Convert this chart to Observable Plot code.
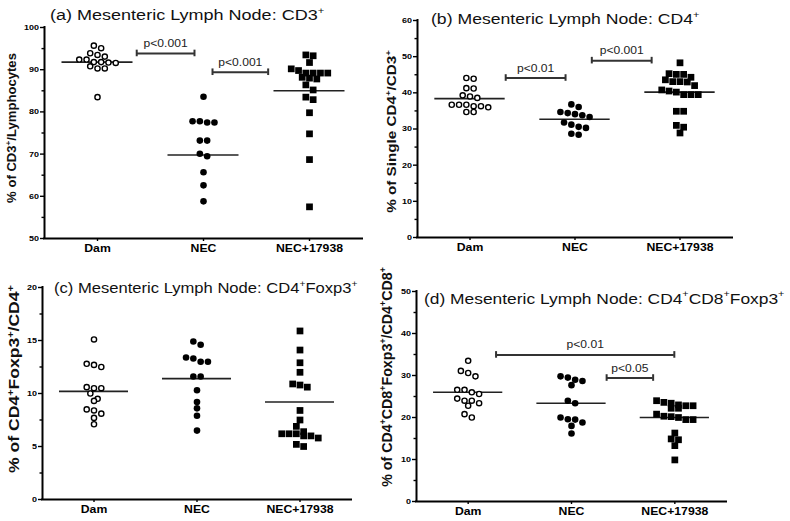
<!DOCTYPE html>
<html>
<head>
<meta charset="utf-8">
<script src="https://cdn.jsdelivr.net/npm/d3@7"></script>
<script src="https://cdn.jsdelivr.net/npm/@observablehq/plot@0.6"></script>
<style>
html, body { margin: 0; padding: 0; background: #fff; }
#wrap { position: relative; width: 790px; height: 521px; overflow: hidden; background: #fff; }
#wrap > div { position: absolute; }
.pp g[aria-label="y-axis tick label"], .pp g[aria-label="x-axis tick label"] { font-weight: bold; }
</style>
</head>
<body>
<div id="wrap"></div>
<script>
// ---------------- DATA ----------------
const categories = ["Dam", "NEC", "NEC+17938"];

// (a) CD3+ (% of CD3+/Lymphocytes)
const cd3Dam = [95.7, 95.1, 93.9, 93.5, 93.1, 92.4, 92.4, 91.8, 91.6, 91.8, 91.7, 90.3, 90.3, 90.8, 83.5];
const cd3NEC = [83.6, 77.8, 77.5, 77.5, 77.8, 73.2, 73.2, 70.1, 69.5, 65.7, 62.6, 58.8];
const cd3NEC17938 = [93.3, 93.5, 91.7, 89.2, 89.2, 89.2, 89.2, 90.2, 89.8, 88.0, 87.8, 88.2, 86.4, 85.2, 83.5, 82.9, 79.8, 74.8, 68.7, 57.5];
const cd3Lines = [91.8, 69.8, 85.0];
const cd3Tests = [
  {from: 0.37, to: 0.915, y: 93.85, label: "p<0.001"},
  {from: 1.085, to: 1.61, y: 89.4, label: "p<0.001"}
];
const cd3Ticks = [50, 60, 70, 80, 90, 100];

// (b) CD4+ (% of Single CD4+/CD3+)
const cd4Dam = [44.1, 43.9, 41.2, 41.3, 39.0, 38.6, 39.3, 36.7, 36.3, 36.0, 34.7, 34.7, 36.3, 36.7, 36.7];
const cd4NEC = [36.8, 36.1, 34.7, 34.1, 33.3, 33.8, 34.4, 31.2, 30.3, 30.6, 31.8, 28.4, 28.7];
const cd4NEC17938 = [48.3, 45.3, 45.1, 45.1, 44.3, 43.1, 43.0, 43.1, 43.6, 42.0, 40.8, 40.5, 40.2, 39.5, 39.5, 39.5, 34.9, 34.9, 31.0, 30.5, 28.9];
const cd4Lines = [38.4, 32.7, 40.2];
const cd4Tests = [
  {from: 0.34, to: 0.91, y: 44.1, label: "p<0.01"},
  {from: 1.16, to: 1.73, y: 48.9, label: "p<0.001"}
];
const cd4Ticks = [0, 10, 20, 30, 40, 50, 60];

// (c) CD4+Foxp3+ (% of CD4+Foxp3+/CD4+)
const foxDam = [15.1, 12.8, 12.5, 12.7, 10.5, 10.5, 10.6, 10.0, 9.3, 9.5, 8.4, 8.1, 8.5, 7.7, 7.1];
const foxNEC = [14.6, 14.9, 13.4, 13.0, 13.0, 13.3, 11.6, 11.6, 10.3, 9.2, 8.6, 7.9, 6.5];
const foxNEC17938 = [15.9, 14.1, 12.9, 12.0, 10.9, 10.6, 10.8, 8.4, 7.5, 6.9, 6.2, 6.2, 6.0, 5.8, 6.0, 6.2, 6.4, 5.0, 5.2];
const foxLines = [10.2, 11.4, 9.2];
const foxTests = [];
const foxTicks = [0, 5, 10, 15, 20];

// (d) CD4+CD8+Foxp3+ (% of CD4+CD8+Foxp3+/CD4+CD8+)
const dpDam = [33.5, 30.6, 29.8, 31.1, 26.6, 25.6, 26.0, 26.6, 24.0, 23.4, 22.8, 24.0, 24.5, 20.0, 20.8];
const dpNEC = [29.8, 29.0, 29.5, 28.7, 27.7, 24.0, 23.4, 19.6, 18.8, 20.0, 19.5, 18.0, 16.2];
const dpNEC17938 = [24.0, 23.4, 22.8, 22.8, 23.0, 23.6, 22.2, 22.2, 20.8, 20.2, 19.5, 19.5, 20.0, 20.3, 16.3, 14.7, 14.9, 13.3, 9.9];
const dpLines = [26.0, 23.4, 20.0];
const dpTests = [
  {from: 0.27, to: 1.995, y: 34.9, label: "p<0.01"},
  {from: 1.34, to: 1.79, y: 29.4, label: "p<0.05"}
];
const dpTicks = [0, 10, 20, 30, 40, 50];

const titles = [
  "(a) Mesenteric Lymph Node: CD3⁺",
  "(b) Mesenteric Lymph Node: CD4⁺",
  "(c) Mesenteric Lymph Node: CD4⁺Foxp3⁺",
  "(d) Mesenteric Lymph Node: CD4⁺CD8⁺Foxp3⁺"
];
const yLabels = [
  "% of CD3⁺/Lymphocytes",
  "% of Single CD4⁺/CD3⁺",
  "% of CD4⁺Foxp3⁺/CD4⁺",
  "% of CD4⁺CD8⁺Foxp3⁺/CD4⁺CD8⁺"
];

// ---------------- LAYOUT ----------------
const FONT = "'Liberation Sans', Arial, Helvetica, sans-serif";
const panels = [
  {left: 0,   top: 0,   width: 395, height: 260, margin: [27, 33, 22, 44], y: [50, 100], ticks: cd3Ticks,
   groups: [cd3Dam, cd3NEC, cd3NEC17938], lines: cd3Lines, tests: cd3Tests,
   title: {x: 50, y: 20, len: 275}, ylab: {x: 15.6, y: 128, len: 150, size: 12.5}},
  {left: 395, top: 0,   width: 395, height: 260, margin: [20, 58, 23, 22], y: [0, 60], ticks: cd4Ticks,
   groups: [cd4Dam, cd4NEC, cd4NEC17938], lines: cd4Lines, tests: cd4Tests,
   title: {x: 431, y: 24, len: 269}, ylab: {x: 396, y: 131.5, len: 163, size: 13}},
  {left: 0,   top: 260, width: 395, height: 261, margin: [27, 44, 22, 42], y: [0, 20], ticks: foxTicks,
   groups: [foxDam, foxNEC, foxNEC17938], lines: foxLines, tests: foxTests,
   title: {x: 54, y: 293, len: 304}, ylab: {x: 19.3, y: 379, len: 188, size: 14}},
  {left: 395, top: 260, width: 395, height: 261, margin: [31, 64, 20, 21], y: [0, 50], ticks: dpTicks,
   groups: [dpDam, dpNEC, dpNEC17938], lines: dpLines, tests: dpTests,
   title: {x: 424, y: 303.5, len: 361}, ylab: {x: 391.7, y: 377, len: 220, size: 14}}
];

// Prism-like column scatter: points with close values share a row, spread symmetrically
function scatterRows(groups, sx, sy, d) {
  const out = [];
  groups.forEach((vals, g) => {
    const sorted = [...vals].sort((a, b) => b - a);
    const rows = [];
    for (const v of sorted) {
      const row = rows[rows.length - 1];
      if (row && (row[0] - v) * sy < d * 0.8) row.push(v); else rows.push([v]);
    }
    for (const row of rows) row.forEach((v, k) => out.push({g, v, x: g + (k - (row.length - 1) / 2) * d / sx}));
  });
  return out;
}

function stretchTexts(svg, selector, k) {
  d3.select(svg).selectAll(selector).each(function () {
    const t = this.getAttribute("transform") || "";
    this.setAttribute("transform", t + ` scale(${k},1)`);
  });
}

const wrap = document.getElementById("wrap");

panels.forEach((p) => {
  const [mT, mR, mB, mL] = p.margin;
  const innerW = p.width - mL - mR;
  const innerH = p.height - mT - mB;
  const sx = innerW / 3;
  const sy = innerH / (p.y[1] - p.y[0]);
  const pts = scatterRows(p.groups, sx, sy, 7.3);
  const means = p.lines.map((v, i) => ({i, v}));
  const capH = 3.3 / sy;
  const caps = p.tests.flatMap(t => [{x: t.from, y: t.y}, {x: t.to, y: t.y}]);
  const majorStep = p.ticks[1] - p.ticks[0];
  const minor = d3.range(p.y[0] + majorStep / 2, p.y[1], majorStep);

  const svg = Plot.plot({
    className: "pp",
    width: p.width,
    height: p.height,
    marginTop: mT, marginRight: mR, marginBottom: mB, marginLeft: mL,
    style: {fontFamily: FONT, background: "transparent", color: "#000"},
    x: {type: "linear", domain: [-0.5, 2.5]},
    y: {type: "linear", domain: p.y},
    marks: [
      Plot.axisY({ticks: minor, tickSize: 2.5, tickFormat: () => "", strokeWidth: 1.4, label: null}),
      Plot.axisY({ticks: p.ticks, tickSize: 4, tickPadding: 1.5, fontSize: 7.5, fontWeight: "bold", strokeWidth: 1.4, label: null}),
      Plot.axisX({ticks: [0, 1, 2], tickFormat: i => categories[i], tickSize: 3, tickPadding: 3, fontSize: 10.2, fontWeight: "bold", strokeWidth: 1.4, label: null}),
      Plot.ruleX([-0.5], {stroke: "#000", strokeWidth: 2, strokeLinecap: "square"}),
      Plot.ruleY([p.y[0]], {stroke: "#000", strokeWidth: 2, strokeLinecap: "square"}),
      Plot.ruleY(means, {y: "v", x1: d => d.i - 0.335, x2: d => d.i + 0.335, stroke: "#222", strokeWidth: 1.6}),
      Plot.ruleY(p.tests, {y: "y", x1: "from", x2: "to", stroke: "#333", strokeWidth: 2}),
      Plot.ruleX(caps, {x: "x", y1: d => d.y - capH, y2: d => d.y + capH, stroke: "#333", strokeWidth: 2}),
      Plot.text(p.tests, {x: d => (d.from + d.to) / 2, y: "y", text: "label", dy: -10, fontSize: 11, fill: "#222"}),
      Plot.dot(pts.filter(d => d.g === 0), {x: "x", y: "v", r: 2.6, fill: "#fff", stroke: "#000", strokeWidth: 1.4}),
      Plot.dot(pts.filter(d => d.g === 1), {x: "x", y: "v", r: 3.3, fill: "#000", stroke: "none"}),
      Plot.dot(pts.filter(d => d.g === 2), {x: "x", y: "v", r: 3.8, symbol: "square", fill: "#000", stroke: "none"})
    ]
  });
  stretchTexts(svg, 'g[aria-label="y-axis tick label"] text, g[aria-label="x-axis tick label"] text', 1.2);
  stretchTexts(svg, 'g[aria-label="text"] text', 1.1);

  const holder = document.createElement("div");
  holder.style.left = p.left + "px";
  holder.style.top = p.top + "px";
  holder.appendChild(svg);
  wrap.appendChild(holder);
});

// ---------------- TITLES & Y LABELS (with superscripts) ----------------
const ovHolder = document.createElement("div");
ovHolder.style.left = "0px"; ovHolder.style.top = "0px";
wrap.appendChild(ovHolder);
const ov = d3.select(ovHolder).append("svg")
  .attr("width", 790).attr("height", 521)
  .style("display", "block")
  .style("font-family", FONT)
  .style("pointer-events", "none");

function richText(sel, str, size) {
  const parts = str.split("⁺");
  const rise = size * 0.4;
  let raised = false;
  parts.forEach((part, i) => {
    if (part.length) {
      const t = sel.append("tspan").text(part).attr("font-size", size);
      if (raised) { t.attr("dy", rise); raised = false; }
    }
    if (i < parts.length - 1) {
      const s = sel.append("tspan").text("+").attr("font-size", size * 0.62);
      if (!raised) { s.attr("dy", -rise); raised = true; }
    }
  });
}

panels.forEach((p, i) => {
  // title
  const tSize = 15.5;
  const t = ov.append("text").attr("fill", "#111").attr("text-anchor", "start");
  richText(t, titles[i], tSize);
  const tw = t.node().getBBox().width;
  t.attr("transform", `translate(${p.title.x},${p.title.y}) scale(${p.title.len / tw},1)`);

  // y label
  const L = p.ylab;
  const yl = ov.append("text").attr("fill", "#111").attr("font-weight", "bold").attr("text-anchor", "middle");
  richText(yl, yLabels[i], L.size);
  const lw = yl.node().getBBox().width;
  yl.attr("transform", `translate(${L.x},${L.y}) rotate(-90) scale(${L.len / lw},1)`);
});
</script>
</body>
</html>
